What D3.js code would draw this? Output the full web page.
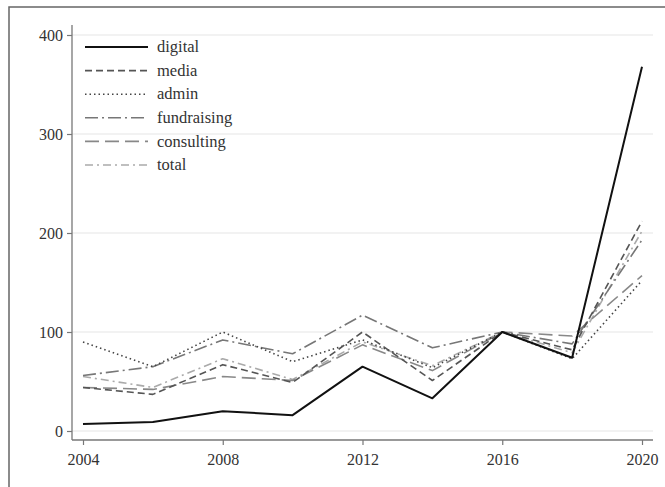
<!DOCTYPE html>
<html><head><meta charset="utf-8">
<script src="https://cdn.jsdelivr.net/npm/d3@7"></script>
<style>body{margin:0;background:#fff}svg{display:block}</style>
</head><body>
<script>
const years = [2004, 2006, 2008, 2010, 2012, 2014, 2016, 2018, 2020];
const digital     = [7, 9, 20, 16, 65, 33, 100, 74, 368];
const media       = [44, 37, 67, 49, 100, 51, 100, 82, 212];
const admin       = [90, 65, 100, 70, 92, 64, 100, 73, 152];
const fundraising = [56, 65, 92, 78, 117, 84, 100, 88, 193];
const consulting  = [44, 42, 55, 51, 87, 61, 100, 96, 157];
const total       = [55, 44, 73, 52, 90, 66, 100, 79, 202];
const seriesNames = ["digital", "media", "admin", "fundraising", "consulting", "total"];
const xTicks = [2004, 2008, 2012, 2016, 2020];
const yTicks = [0, 100, 200, 300, 400];

const seriesData = {digital, media, admin, fundraising, consulting, total};
const styles = {
  digital:     {color: "#111", width: 2, dash: null},
  media:       {color: "#555", width: 1.6, dash: "7,4"},
  admin:       {color: "#444", width: 1.6, dash: "1.5,3"},
  fundraising: {color: "#777", width: 1.6, dash: "13,4,2,4"},
  consulting:  {color: "#888", width: 1.6, dash: "14,6"},
  total:       {color: "#aaa", width: 1.6, dash: "8,4,2,4"}
};

const W = 665, H = 487;
const svg = d3.select("body").append("svg").attr("width", W).attr("height", H);
svg.append("rect").attr("x", 9).attr("y", 7).attr("width", 680).attr("height", 500)
  .attr("fill", "none").attr("stroke", "#666").attr("stroke-width", 1.5);

const x = d3.scaleLinear().domain([2004, 2020]).range([83, 642]);
const y = d3.scaleLinear().domain([0, 400]).range([431, 35]);
const plotLeft = 72, plotRight = 653, plotBottom = 440, plotTop = 25;

// grid
svg.append("g").selectAll("line").data(yTicks).join("line")
  .attr("x1", plotLeft).attr("x2", plotRight).attr("y1", d => y(d)).attr("y2", d => y(d))
  .attr("stroke", "#e6e6e6").attr("stroke-width", 1.2);

// axes
const yAxis = d3.axisLeft(y).tickValues(yTicks).tickSize(5).tickPadding(4);
const gy = svg.append("g").attr("transform", `translate(${plotLeft},0)`).call(yAxis);
gy.select(".domain").remove();
svg.append("line").attr("x1", plotLeft).attr("x2", plotLeft).attr("y1", plotTop).attr("y2", plotBottom)
  .attr("stroke", "#777").attr("stroke-width", 1.3);
const xAxis = d3.axisBottom(x).tickValues(xTicks).tickFormat(d3.format("d")).tickSize(5).tickPadding(9);
const gx = svg.append("g").attr("transform", `translate(0,${plotBottom})`).call(xAxis);
gx.select(".domain").remove();
svg.append("line").attr("x1", plotLeft).attr("x2", plotRight).attr("y1", plotBottom).attr("y2", plotBottom)
  .attr("stroke", "#777").attr("stroke-width", 1.3);
svg.selectAll(".tick line").attr("stroke", "#777").attr("stroke-width", 1.2);
svg.selectAll(".tick text").attr("fill", "#333")
  .style("font-family", "'Liberation Serif', 'DejaVu Serif', serif").style("font-size", "16px");

// lines
const line = d3.line().x((d, i) => x(years[i])).y(d => y(d));
seriesNames.slice().reverse().forEach(name => {
  const s = styles[name];
  svg.append("path").datum(seriesData[name]).attr("d", line)
    .attr("fill", "none").attr("stroke", s.color).attr("stroke-width", s.width)
    .attr("stroke-dasharray", s.dash).attr("stroke-linejoin", "round");
});

// legend
const lg = svg.append("g");
seriesNames.forEach((name, i) => {
  const yy = 47 + i * 23.6;
  const s = styles[name];
  lg.append("line").attr("x1", 85).attr("x2", 148).attr("y1", yy).attr("y2", yy)
    .attr("stroke", s.color).attr("stroke-width", s.width).attr("stroke-dasharray", s.dash);
  lg.append("text").attr("x", 157).attr("y", yy).attr("dy", "0.32em").text(name)
    .attr("fill", "#333").style("font-family", "'Liberation Serif', 'DejaVu Serif', serif")
    .style("font-size", "16.5px");
});
</script>
</body></html>
